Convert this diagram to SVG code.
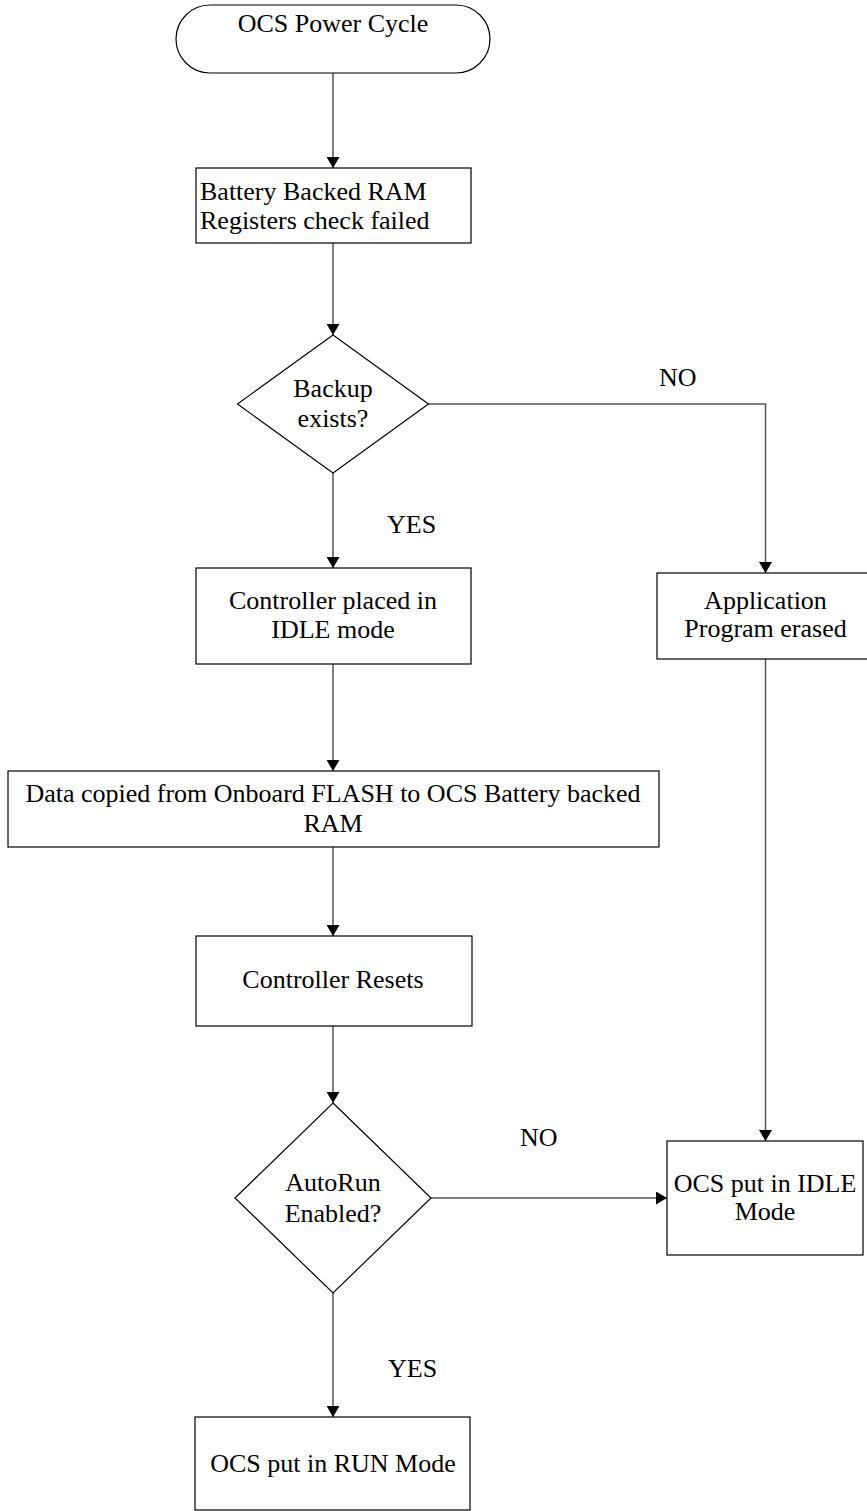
<svg xmlns="http://www.w3.org/2000/svg" width="867" height="1511" viewBox="0 0 867 1511">
<style>
.n{fill:#fff;stroke:#000;stroke-width:1.2}
.t{font-family:"Liberation Serif","Times New Roman",serif;font-size:26px;fill:#000}
.m{text-anchor:middle}
.c{fill:none;stroke:#555;stroke-width:1.5}
</style>
<defs>
<marker id="a" markerWidth="11" markerHeight="13" refX="11" refY="6.5" orient="auto" markerUnits="userSpaceOnUse">
<path d="M0,0 L11,6.5 L0,13 Z" fill="#000"/>
</marker>
</defs>
<rect width="867" height="1511" fill="#fff"/>
<g id="connectors">
<line class="c" x1="333" y1="73" x2="333" y2="168" marker-end="url(#a)"/>
<line class="c" x1="333" y1="243" x2="333" y2="335" marker-end="url(#a)"/>
<line class="c" x1="333" y1="473" x2="333" y2="568" marker-end="url(#a)"/>
<polyline class="c" points="428.5,404 765.5,404 765.5,573" marker-end="url(#a)"/>
<line class="c" x1="333" y1="664" x2="333" y2="771" marker-end="url(#a)"/>
<line class="c" x1="333" y1="847" x2="333" y2="936" marker-end="url(#a)"/>
<line class="c" x1="333" y1="1026" x2="333" y2="1103" marker-end="url(#a)"/>
<line class="c" x1="431" y1="1198" x2="667" y2="1198" marker-end="url(#a)"/>
<line class="c" x1="765.5" y1="659" x2="765.5" y2="1141" marker-end="url(#a)"/>
<line class="c" x1="333" y1="1293" x2="333" y2="1417" marker-end="url(#a)"/>
<text class="t" x="659" y="386">NO</text>
<text class="t" x="387" y="533">YES</text>
<text class="t" x="520" y="1146">NO</text>
<text class="t" x="388" y="1377">YES</text>
</g>
<g id="start">
<rect class="n" x="176" y="5" width="314" height="68" rx="34" ry="34"/>
<text class="t m" x="333" y="32">OCS Power Cycle</text>
</g>
<g id="battery-check">
<rect class="n" x="196" y="168" width="275" height="75"/>
<text class="t" x="200" y="200">Battery Backed RAM</text>
<text class="t" x="200" y="229">Registers check failed</text>
</g>
<g id="backup-exists">
<polygon class="n" points="333,335 428.5,404 333,473 237.5,404"/>
<text class="t m" x="333" y="397">Backup</text>
<text class="t m" x="333" y="427">exists?</text>
</g>
<g id="controller-idle">
<rect class="n" x="196" y="568" width="275" height="96"/>
<text class="t m" x="333" y="609">Controller placed in</text>
<text class="t m" x="333" y="638">IDLE mode</text>
</g>
<g id="app-erased">
<rect class="n" x="657" y="573" width="217" height="86"/>
<text class="t m" x="765.5" y="609">Application</text>
<text class="t m" x="765.5" y="637">Program erased</text>
</g>
<g id="data-copied">
<rect class="n" x="8" y="771" width="651" height="76"/>
<text class="t m" x="333" y="802">Data copied from Onboard FLASH to OCS Battery backed</text>
<text class="t m" x="333" y="832">RAM</text>
</g>
<g id="controller-resets">
<rect class="n" x="196" y="936" width="276" height="90"/>
<text class="t m" x="333" y="988">Controller Resets</text>
</g>
<g id="autorun-enabled">
<polygon class="n" points="333,1103 431,1198 333,1293 235,1198"/>
<text class="t m" x="333" y="1191">AutoRun</text>
<text class="t m" x="333" y="1222">Enabled?</text>
</g>
<g id="ocs-idle">
<rect class="n" x="667" y="1141" width="196" height="114"/>
<text class="t m" x="765" y="1192">OCS put in IDLE</text>
<text class="t m" x="765" y="1220">Mode</text>
</g>
<g id="ocs-run">
<rect class="n" x="195" y="1417" width="275" height="93"/>
<text class="t m" x="333" y="1472">OCS put in RUN Mode</text>
</g>
</svg>
